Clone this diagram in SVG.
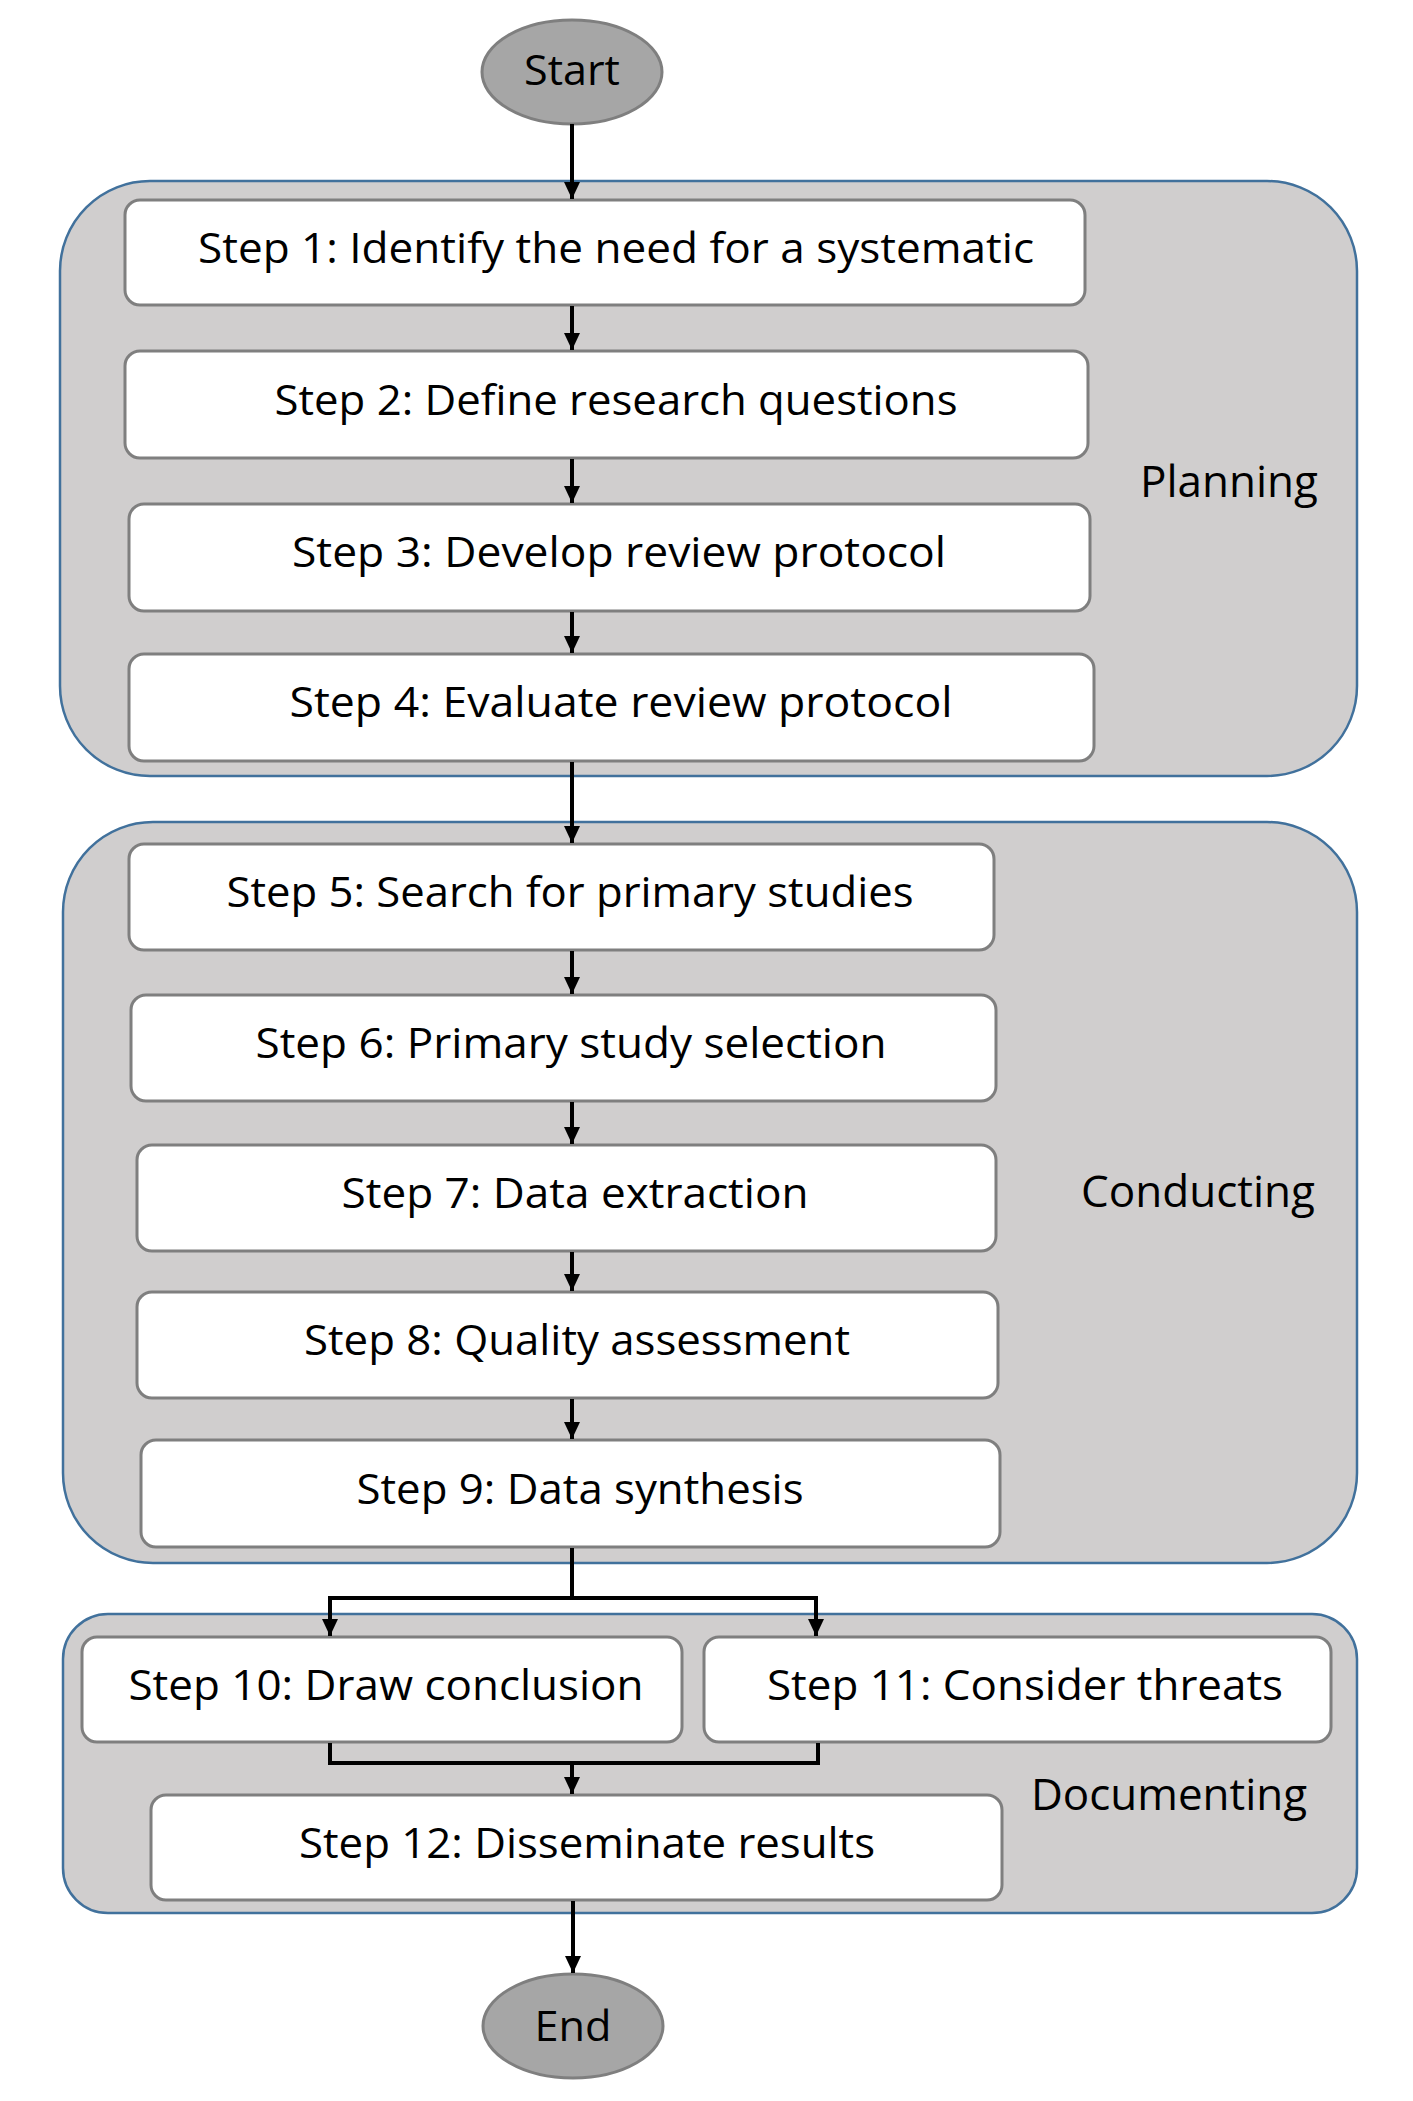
<svg xmlns="http://www.w3.org/2000/svg" width="1413" height="2101" viewBox="0 0 1413 2101">
<style>
.bg{fill:#ffffff}
.phase{fill:#D0CECE;stroke:#41719C;stroke-width:2.5}
.step{fill:#ffffff;stroke:#7F7F7F;stroke-width:3}
.term{fill:#A6A6A6;stroke:#7F7F7F;stroke-width:3}
text{font-family:"Open Sans","Liberation Sans",sans-serif;fill:#000000;text-anchor:middle}
.t{font-size:42px}
.lbl{font-size:44px}
.conn{fill:none;stroke:#000000;stroke-width:4}
</style>
<defs>
<marker id="ah" markerUnits="userSpaceOnUse" markerWidth="18" markerHeight="18" refX="17" refY="8" orient="auto">
<path d="M0,0 L17,8 L0,16 z" fill="#000000"/>
</marker>
</defs>
<rect class="bg" x="0" y="0" width="1413" height="2101"/>

<g id="planning">
<rect class="phase" x="60" y="181" width="1297" height="595" rx="90" ry="90"/>
<text class="lbl" x="1229" y="497" textLength="178" lengthAdjust="spacingAndGlyphs">Planning</text>
</g>
<g id="conducting">
<rect class="phase" x="63" y="822" width="1294" height="741" rx="90" ry="90"/>
<text class="lbl" x="1198" y="1207" textLength="234" lengthAdjust="spacingAndGlyphs">Conducting</text>
</g>
<g id="documenting">
<rect class="phase" x="63" y="1614" width="1294" height="299" rx="45" ry="45"/>
<text class="lbl" x="1169" y="1810" textLength="276" lengthAdjust="spacingAndGlyphs">Documenting</text>
</g>

<g id="start">
<ellipse class="term" cx="572" cy="72" rx="90" ry="52"/>
<text class="t" x="572" y="85" textLength="96" lengthAdjust="spacingAndGlyphs">Start</text>
</g>
<g id="step1">
<rect class="step" x="125" y="200" width="960" height="105" rx="15" ry="15"/>
<text class="t" x="616" y="263" textLength="836" lengthAdjust="spacingAndGlyphs">Step 1: Identify the need for a systematic</text>
</g>
<g id="step2">
<rect class="step" x="125" y="351" width="963" height="107" rx="15" ry="15"/>
<text class="t" x="616" y="415" textLength="683" lengthAdjust="spacingAndGlyphs">Step 2: Define research questions</text>
</g>
<g id="step3">
<rect class="step" x="129" y="504" width="961" height="107" rx="15" ry="15"/>
<text class="t" x="619" y="567" textLength="654" lengthAdjust="spacingAndGlyphs">Step 3: Develop review protocol</text>
</g>
<g id="step4">
<rect class="step" x="129" y="654" width="965" height="107" rx="15" ry="15"/>
<text class="t" x="621" y="717" textLength="663" lengthAdjust="spacingAndGlyphs">Step 4: Evaluate review protocol</text>
</g>
<g id="step5">
<rect class="step" x="129" y="844" width="865" height="106" rx="15" ry="15"/>
<text class="t" x="570" y="907" textLength="687" lengthAdjust="spacingAndGlyphs">Step 5: Search for primary studies</text>
</g>
<g id="step6">
<rect class="step" x="131" y="995" width="865" height="106" rx="15" ry="15"/>
<text class="t" x="571" y="1058" textLength="631" lengthAdjust="spacingAndGlyphs">Step 6: Primary study selection</text>
</g>
<g id="step7">
<rect class="step" x="137" y="1145" width="859" height="106" rx="15" ry="15"/>
<text class="t" x="575" y="1208" textLength="467" lengthAdjust="spacingAndGlyphs">Step 7: Data extraction</text>
</g>
<g id="step8">
<rect class="step" x="137" y="1292" width="861" height="106" rx="15" ry="15"/>
<text class="t" x="577" y="1355" textLength="546" lengthAdjust="spacingAndGlyphs">Step 8: Quality assessment</text>
</g>
<g id="step9">
<rect class="step" x="141" y="1440" width="859" height="107" rx="15" ry="15"/>
<text class="t" x="580" y="1504" textLength="447" lengthAdjust="spacingAndGlyphs">Step 9: Data synthesis</text>
</g>
<g id="step10">
<rect class="step" x="82" y="1637" width="600" height="105" rx="15" ry="15"/>
<text class="t" x="386" y="1700" textLength="515" lengthAdjust="spacingAndGlyphs">Step 10: Draw conclusion</text>
</g>
<g id="step11">
<rect class="step" x="704" y="1637" width="627" height="105" rx="15" ry="15"/>
<text class="t" x="1025" y="1700" textLength="516" lengthAdjust="spacingAndGlyphs">Step 11: Consider threats</text>
</g>
<g id="step12">
<rect class="step" x="151" y="1795" width="851" height="105" rx="15" ry="15"/>
<text class="t" x="587" y="1858" textLength="576" lengthAdjust="spacingAndGlyphs">Step 12: Disseminate results</text>
</g>
<g id="end">
<ellipse class="term" cx="573" cy="2026" rx="90" ry="52"/>
<text class="t" x="573" y="2041" textLength="77" lengthAdjust="spacingAndGlyphs">End</text>
</g>

<g id="connectors">
<path class="conn" d="M572,124 L572,199" marker-end="url(#ah)"/>
<path class="conn" d="M572,306 L572,350" marker-end="url(#ah)"/>
<path class="conn" d="M572,459 L572,503" marker-end="url(#ah)"/>
<path class="conn" d="M572,612 L572,653" marker-end="url(#ah)"/>
<path class="conn" d="M572,762 L572,843" marker-end="url(#ah)"/>
<path class="conn" d="M572,951 L572,994" marker-end="url(#ah)"/>
<path class="conn" d="M572,1102 L572,1144" marker-end="url(#ah)"/>
<path class="conn" d="M572,1252 L572,1291" marker-end="url(#ah)"/>
<path class="conn" d="M572,1399 L572,1439" marker-end="url(#ah)"/>
<path class="conn" d="M572,1548 L572,1598"/>
<path class="conn" d="M572,1598 L330,1598 L330,1636" marker-end="url(#ah)"/>
<path class="conn" d="M572,1598 L816,1598 L816,1636" marker-end="url(#ah)"/>
<path class="conn" d="M330,1743 L330,1763 L818,1763 L818,1743"/>
<path class="conn" d="M572,1763 L572,1794" marker-end="url(#ah)"/>
<path class="conn" d="M573,1901 L573,1973" marker-end="url(#ah)"/>
</g>
</svg>
